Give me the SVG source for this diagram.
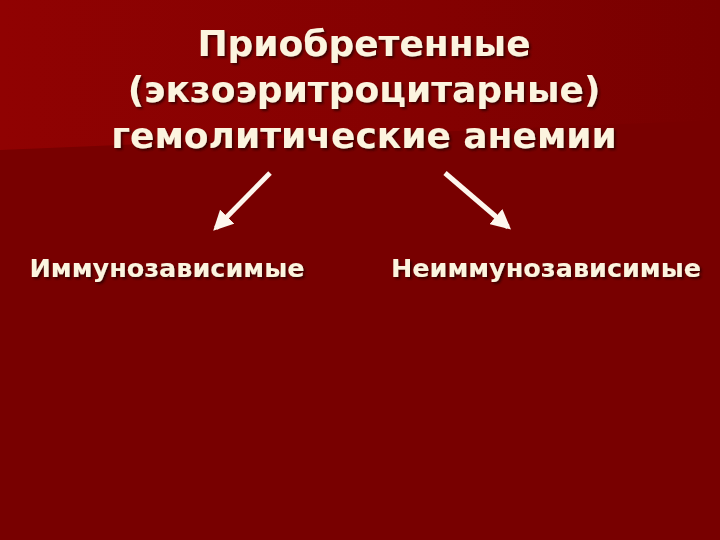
<svg xmlns="http://www.w3.org/2000/svg" width="720" height="540" viewBox="0 0 720 540">
<defs>
<linearGradient id="bgTop" x1="0" y1="0" x2="1" y2="0">
<stop offset="0" stop-color="#900202"/>
<stop offset="0.6" stop-color="#840101"/>
<stop offset="1" stop-color="#780000"/>
</linearGradient>
<filter id="ds" x="-5%" y="-20%" width="110%" height="140%">
<feDropShadow dx="2" dy="2" stdDeviation="0.8" flood-color="#200000" flood-opacity="0.7"/>
</filter>
<marker id="ah" viewBox="0 0 10 10" refX="8" refY="5" markerWidth="4" markerHeight="4" orient="auto" markerUnits="strokeWidth">
<path d="M0,0 L10,5 L0,10 Z" fill="#fdf6ee"/>
</marker>
<style>
.t{font-family:"DejaVu Sans","Liberation Sans",sans-serif;font-weight:bold;fill:#fcf4df;text-anchor:middle;filter:url(#ds)}
.c{stroke:#fdf6ee;stroke-width:5;fill:none;marker-end:url(#ah)}
</style>
</defs>
<rect width="720" height="540" fill="#780000"/>
<polygon points="0,0 720,0 720,120 0,150" fill="url(#bgTop)"/>
<g id="title">
<text class="t" x="364" y="56" font-size="36">Приобретенные</text>
<text class="t" x="364" y="102" font-size="36">(экзоэритроцитарные)</text>
<text class="t" x="364" y="148" font-size="36">гемолитические анемии</text>
</g>
<g id="left">
<text class="t" x="167" y="277" font-size="25.5">Иммунозависимые</text>
</g>
<g id="right">
<text class="t" x="546" y="277" font-size="25.5">Неиммунозависимые</text>
</g>
<g id="connectors">
<line class="c" x1="270" y1="173" x2="216" y2="228"/>
<line class="c" x1="445" y1="173" x2="508" y2="227"/>
</g>
</svg>
